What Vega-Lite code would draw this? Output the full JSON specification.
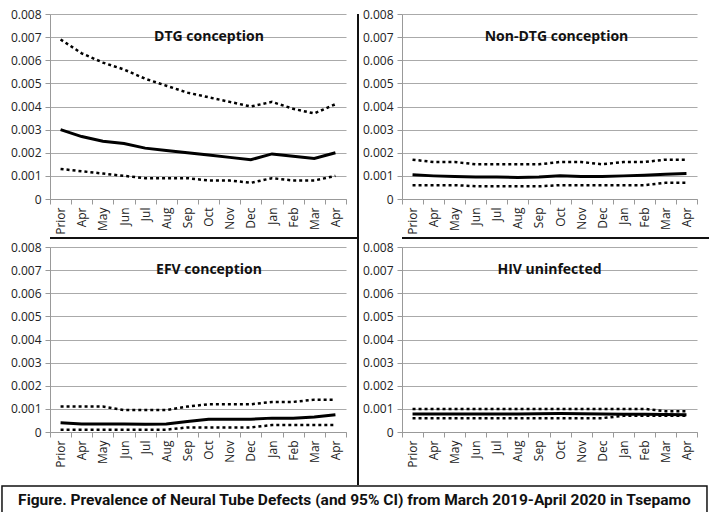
{
  "$schema": "https://vega.github.io/schema/vega-lite/v6.json",
  "background": "white",
  "padding": {"left": 0, "top": 8, "right": 0, "bottom": 2},
  "config": {
    "view": {"stroke": null},
    "font": "Open Sans",
    "concat": {"spacing": 0},
    "axis": {"labelFont": "Open Sans", "labelFontSize": 12, "labelColor": "#222", "domainColor": "#999", "tickColor": "#999", "gridColor": "#aaa", "gridWidth": 1.2},
    "axisX": {"labelAngle": 270, "labelAlign": "right", "labelBaseline": "middle", "grid": false, "tickBand": "extent", "tickSize": 5, "labelPadding": 3},
    "axisY": {"tickSize": 5, "labelPadding": 4, "labelOverlap": false},
    "scale": {"bandPaddingInner": 0, "bandPaddingOuter": 0},
    "line": {"color": "black"},
    "text": {"font": "Open Sans", "fontWeight": "bold", "fontSize": 14, "color": "#111", "baseline": "middle"}
  },
  "datasets": {
    "nt": [
      {"p": "DTG", "i": 0, "est": 0.0030, "lo": 0.0013, "hi": 0.0069},
      {"p": "DTG", "i": 1, "est": 0.0027, "lo": 0.0012, "hi": 0.0063},
      {"p": "DTG", "i": 2, "est": 0.0025, "lo": 0.0011, "hi": 0.0059},
      {"p": "DTG", "i": 3, "est": 0.0024, "lo": 0.0010, "hi": 0.0056},
      {"p": "DTG", "i": 4, "est": 0.0022, "lo": 0.0009, "hi": 0.0052},
      {"p": "DTG", "i": 5, "est": 0.0021, "lo": 0.0009, "hi": 0.0049},
      {"p": "DTG", "i": 6, "est": 0.0020, "lo": 0.0009, "hi": 0.0046},
      {"p": "DTG", "i": 7, "est": 0.0019, "lo": 0.0008, "hi": 0.0044},
      {"p": "DTG", "i": 8, "est": 0.0018, "lo": 0.0008, "hi": 0.0042},
      {"p": "DTG", "i": 9, "est": 0.0017, "lo": 0.0007, "hi": 0.0040},
      {"p": "DTG", "i": 10, "est": 0.00195, "lo": 0.0009, "hi": 0.0042},
      {"p": "DTG", "i": 11, "est": 0.00185, "lo": 0.0008, "hi": 0.0039},
      {"p": "DTG", "i": 12, "est": 0.00175, "lo": 0.0008, "hi": 0.0037},
      {"p": "DTG", "i": 13, "est": 0.0020, "lo": 0.0010, "hi": 0.0041},
      {"p": "NON", "i": 0, "est": 0.00105, "lo": 0.0006, "hi": 0.0017},
      {"p": "NON", "i": 1, "est": 0.00100, "lo": 0.0006, "hi": 0.0016},
      {"p": "NON", "i": 2, "est": 0.00097, "lo": 0.0006, "hi": 0.0016},
      {"p": "NON", "i": 3, "est": 0.00095, "lo": 0.00055, "hi": 0.0015},
      {"p": "NON", "i": 4, "est": 0.00095, "lo": 0.00055, "hi": 0.0015},
      {"p": "NON", "i": 5, "est": 0.00093, "lo": 0.00055, "hi": 0.0015},
      {"p": "NON", "i": 6, "est": 0.00095, "lo": 0.00055, "hi": 0.0015},
      {"p": "NON", "i": 7, "est": 0.00100, "lo": 0.0006, "hi": 0.0016},
      {"p": "NON", "i": 8, "est": 0.00097, "lo": 0.0006, "hi": 0.0016},
      {"p": "NON", "i": 9, "est": 0.00097, "lo": 0.0006, "hi": 0.0015},
      {"p": "NON", "i": 10, "est": 0.00100, "lo": 0.0006, "hi": 0.0016},
      {"p": "NON", "i": 11, "est": 0.00103, "lo": 0.0006, "hi": 0.0016},
      {"p": "NON", "i": 12, "est": 0.00107, "lo": 0.0007, "hi": 0.0017},
      {"p": "NON", "i": 13, "est": 0.00110, "lo": 0.0007, "hi": 0.0017},
      {"p": "EFV", "i": 0, "est": 0.00040, "lo": 0.0001, "hi": 0.0011},
      {"p": "EFV", "i": 1, "est": 0.00035, "lo": 0.0001, "hi": 0.0011},
      {"p": "EFV", "i": 2, "est": 0.00035, "lo": 0.0001, "hi": 0.0011},
      {"p": "EFV", "i": 3, "est": 0.00035, "lo": 0.0001, "hi": 0.00095},
      {"p": "EFV", "i": 4, "est": 0.00033, "lo": 0.0001, "hi": 0.00095},
      {"p": "EFV", "i": 5, "est": 0.00035, "lo": 0.0001, "hi": 0.00095},
      {"p": "EFV", "i": 6, "est": 0.00045, "lo": 0.0002, "hi": 0.0011},
      {"p": "EFV", "i": 7, "est": 0.00055, "lo": 0.0002, "hi": 0.0012},
      {"p": "EFV", "i": 8, "est": 0.00055, "lo": 0.0002, "hi": 0.0012},
      {"p": "EFV", "i": 9, "est": 0.00055, "lo": 0.0002, "hi": 0.0012},
      {"p": "EFV", "i": 10, "est": 0.00060, "lo": 0.0003, "hi": 0.0013},
      {"p": "EFV", "i": 11, "est": 0.00060, "lo": 0.0003, "hi": 0.0013},
      {"p": "EFV", "i": 12, "est": 0.00065, "lo": 0.0003, "hi": 0.0014},
      {"p": "EFV", "i": 13, "est": 0.00075, "lo": 0.0003, "hi": 0.0014},
      {"p": "HIV", "i": 0, "est": 0.00078, "lo": 0.0006, "hi": 0.0010},
      {"p": "HIV", "i": 1, "est": 0.00078, "lo": 0.0006, "hi": 0.0010},
      {"p": "HIV", "i": 2, "est": 0.00078, "lo": 0.0006, "hi": 0.0010},
      {"p": "HIV", "i": 3, "est": 0.00078, "lo": 0.0006, "hi": 0.0010},
      {"p": "HIV", "i": 4, "est": 0.00078, "lo": 0.0006, "hi": 0.0010},
      {"p": "HIV", "i": 5, "est": 0.00078, "lo": 0.0006, "hi": 0.0010},
      {"p": "HIV", "i": 6, "est": 0.00079, "lo": 0.0006, "hi": 0.0010},
      {"p": "HIV", "i": 7, "est": 0.00080, "lo": 0.0006, "hi": 0.0010},
      {"p": "HIV", "i": 8, "est": 0.00079, "lo": 0.0006, "hi": 0.0010},
      {"p": "HIV", "i": 9, "est": 0.00078, "lo": 0.0006, "hi": 0.0010},
      {"p": "HIV", "i": 10, "est": 0.00077, "lo": 0.0007, "hi": 0.0010},
      {"p": "HIV", "i": 11, "est": 0.00077, "lo": 0.0007, "hi": 0.0010},
      {"p": "HIV", "i": 12, "est": 0.00076, "lo": 0.0007, "hi": 0.0009},
      {"p": "HIV", "i": 13, "est": 0.00075, "lo": 0.0007, "hi": 0.0009}
    ]
  },
  "vconcat": [
    {
      "concat": [
        {
          "concat": [
            {
              "width": 296, "height": 185,
              "data": {"name": "nt"},
              "transform": [{"filter": "datum.p == 'DTG'"}, {"fold": ["hi", "lo", "est"], "as": ["s", "v"]}],
              "encoding": {
                "x": {"field": "i", "type": "ordinal", "scale": {"type": "band"}, "title": null,
                      "axis": {"labelExpr": "['Prior','Apr','May','Jun','Jul','Aug','Sep','Oct','Nov','Dec','Jan','Feb','Mar','Apr'][datum.value]"}},
                "y": {"field": "v", "type": "quantitative", "title": null, "scale": {"domain": [0, 0.008]},
                      "axis": {"values": [0, 0.001, 0.002, 0.003, 0.004, 0.005, 0.006, 0.007, 0.008], "minExtent": 50, "labelExpr": "datum.value == 0 ? '0' : format(datum.value, '.3f')"}}
              },
              "layer": [
                {"transform": [{"filter": "datum.s != 'est'"}], "mark": {"type": "line", "strokeWidth": 2.5, "strokeDash": [3, 3]}, "encoding": {"detail": {"field": "s"}}},
                {"transform": [{"filter": "datum.s == 'est'"}], "mark": {"type": "line", "strokeWidth": 3}},
                {"data": {"values": [{"t": "DTG conception", "v": 0.007}]}, "mark": {"type": "text", "dx": 11}, "encoding": {"x": null, "text": {"field": "t"}}}
              ]
            },
            {
              "width": 307, "height": 2,
              "view": {"fill": "#111", "stroke": null},
              "data": {"values": []},
              "mark": "point",
              "encoding": {}
            },
            {
              "width": 296, "height": 185,
              "data": {"name": "nt"},
              "transform": [{"filter": "datum.p == 'EFV'"}, {"fold": ["hi", "lo", "est"], "as": ["s", "v"]}],
              "encoding": {
                "x": {"field": "i", "type": "ordinal", "scale": {"type": "band"}, "title": null,
                      "axis": {"labelExpr": "['Prior','Apr','May','Jun','Jul','Aug','Sep','Oct','Nov','Dec','Jan','Feb','Mar','Apr'][datum.value]"}},
                "y": {"field": "v", "type": "quantitative", "title": null, "scale": {"domain": [0, 0.008]},
                      "axis": {"values": [0, 0.001, 0.002, 0.003, 0.004, 0.005, 0.006, 0.007, 0.008], "minExtent": 50, "labelExpr": "datum.value == 0 ? '0' : format(datum.value, '.3f')"}}
              },
              "layer": [
                {"transform": [{"filter": "datum.s != 'est'"}], "mark": {"type": "line", "strokeWidth": 2.5, "strokeDash": [3, 3]}, "encoding": {"detail": {"field": "s"}}},
                {"transform": [{"filter": "datum.s == 'est'"}], "mark": {"type": "line", "strokeWidth": 3}},
                {"data": {"values": [{"t": "EFV conception", "v": 0.007}]}, "mark": {"type": "text", "dx": 11}, "encoding": {"x": null, "text": {"field": "t"}}}
              ]
            }
          ],
          "columns": 1,
          "align": "none",
          "spacing": 2
        },
        {
          "width": 2, "height": 471,
          "view": {"fill": "#111", "stroke": null},
          "data": {"values": []},
          "mark": "point",
          "encoding": {}
        },
        {
          "concat": [
            {
              "width": 295, "height": 185,
              "data": {"name": "nt"},
              "transform": [{"filter": "datum.p == 'NON'"}, {"fold": ["hi", "lo", "est"], "as": ["s", "v"]}],
              "encoding": {
                "x": {"field": "i", "type": "ordinal", "scale": {"type": "band"}, "title": null,
                      "axis": {"labelExpr": "['Prior','Apr','May','Jun','Jul','Aug','Sep','Oct','Nov','Dec','Jan','Feb','Mar','Apr'][datum.value]"}},
                "y": {"field": "v", "type": "quantitative", "title": null, "scale": {"domain": [0, 0.008]},
                      "axis": {"values": [0, 0.001, 0.002, 0.003, 0.004, 0.005, 0.006, 0.007, 0.008], "minExtent": 43, "labelExpr": "datum.value == 0 ? '0' : format(datum.value, '.3f')"}}
              },
              "layer": [
                {"transform": [{"filter": "datum.s != 'est'"}], "mark": {"type": "line", "strokeWidth": 2.5, "strokeDash": [3, 3]}, "encoding": {"detail": {"field": "s"}}},
                {"transform": [{"filter": "datum.s == 'est'"}], "mark": {"type": "line", "strokeWidth": 3}},
                {"data": {"values": [{"t": "Non-DTG conception", "v": 0.007}]}, "mark": {"type": "text", "dx": 7}, "encoding": {"x": null, "text": {"field": "t"}}}
              ]
            },
            {
              "width": 307, "height": 2,
              "view": {"fill": "#111", "stroke": null},
              "data": {"values": []},
              "mark": "point",
              "encoding": {}
            },
            {
              "width": 295, "height": 185,
              "data": {"name": "nt"},
              "transform": [{"filter": "datum.p == 'HIV'"}, {"fold": ["hi", "lo", "est"], "as": ["s", "v"]}],
              "encoding": {
                "x": {"field": "i", "type": "ordinal", "scale": {"type": "band"}, "title": null,
                      "axis": {"labelExpr": "['Prior','Apr','May','Jun','Jul','Aug','Sep','Oct','Nov','Dec','Jan','Feb','Mar','Apr'][datum.value]"}},
                "y": {"field": "v", "type": "quantitative", "title": null, "scale": {"domain": [0, 0.008]},
                      "axis": {"values": [0, 0.001, 0.002, 0.003, 0.004, 0.005, 0.006, 0.007, 0.008], "minExtent": 43, "labelExpr": "datum.value == 0 ? '0' : format(datum.value, '.3f')"}}
              },
              "layer": [
                {"transform": [{"filter": "datum.s != 'est'"}], "mark": {"type": "line", "strokeWidth": 2.5, "strokeDash": [3, 3]}, "encoding": {"detail": {"field": "s"}}},
                {"transform": [{"filter": "datum.s == 'est'"}], "mark": {"type": "line", "strokeWidth": 3}},
                {"data": {"values": [{"t": "HIV uninfected", "v": 0.007}]}, "mark": {"type": "text", "dx": 0}, "encoding": {"x": null, "text": {"field": "t"}}}
              ]
            }
          ],
          "columns": 1,
          "align": "none",
          "spacing": 2
        }
      ],
      "columns": 3,
      "align": "none",
      "spacing": 0
    },
    {
      "width": 656, "height": 28,
      "data": {"values": [{"t": "Figure. Prevalence of Neural Tube Defects (and 95% CI) from March 2019-April 2020 in Tsepamo"}]},
      "layer": [
        {"mark": {"type": "rect", "fill": "white", "stroke": "#111", "strokeWidth": 1.5},
         "encoding": {"x": {"datum": -0.0732, "type": "quantitative", "scale": {"domain": [0, 1], "nice": false, "zero": false}, "axis": null},
                      "x2": {"datum": 1.0015}}},
        {"mark": {"type": "text", "font": "Roboto", "fontWeight": "bold", "fontSize": 15.5, "color": "#111", "baseline": "middle"},
         "encoding": {"x": {"datum": 0.464, "type": "quantitative"}, "text": {"field": "t"}}}
      ]
    }
  ],
  "spacing": 0
}
